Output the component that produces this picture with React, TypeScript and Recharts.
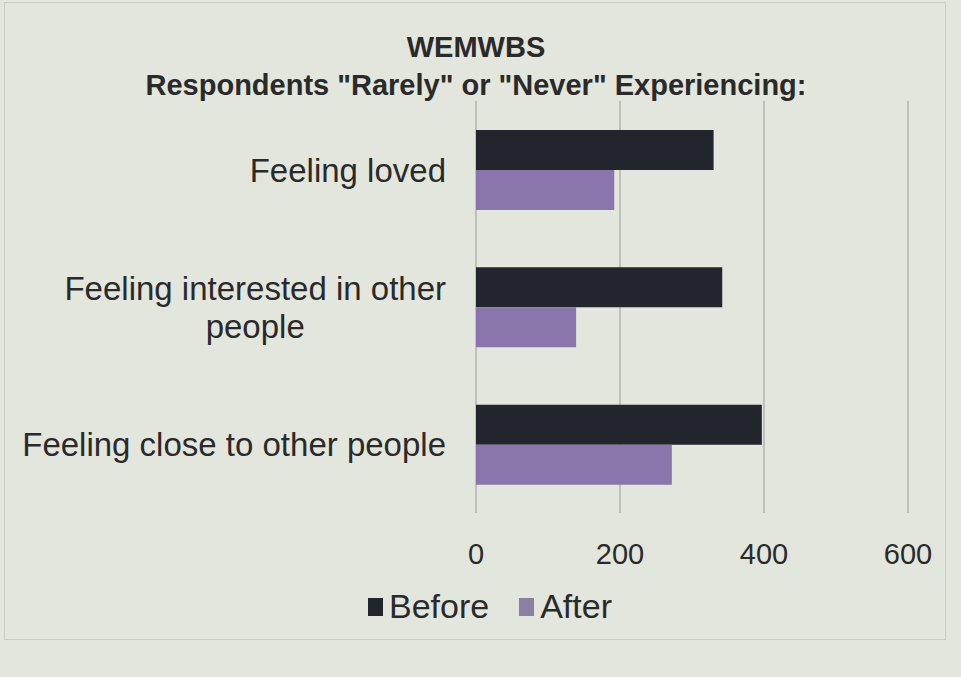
import React from 'react';
import { BarChart, Bar, XAxis, YAxis, CartesianGrid, Legend } from 'recharts';

// values (respondents count)
const categories = ['Feeling loved', 'Feeling interested in other people', 'Feeling close to other people'];
const categoryLines = [['Feeling loved'], ['Feeling interested in other', 'people'], ['Feeling close to other people']];
const beforeValues = [330, 342, 397];
const afterValues = [192, 139, 272];
const xTicks = [0, 200, 400, 600];

const FONT = '"Liberation Sans", Arial, sans-serif';
const TEXT = '#2a2a2a';
const BEFORE = '#23252c';
const AFTER = '#8b75ad';

const data = categories.map((c, i) => ({
  name: c,
  before: beforeValues[i],
  after: afterValues[i],
}));

let ctx: CanvasRenderingContext2D | null = null;
const measure = (s: string, size: number) => {
  if (!ctx) ctx = document.createElement('canvas').getContext('2d');
  if (!ctx) return s.length * size * 0.5;
  ctx.font = `${size}px ${FONT}`;
  return ctx.measureText(s).width;
};

const CategoryTick = (props: any) => {
  const { x, y, payload } = props;
  const idx = categories.indexOf(payload.value);
  const lines = categoryLines[idx] || [payload.value];
  const size = 33;
  const right = x - 22;
  const w = Math.max(...lines.map(l => measure(l, size)));
  const cx = right - w / 2;
  const lh = 38;
  const y0 = y - ((lines.length - 1) * lh) / 2;
  return (
    <text x={cx} y={y0} textAnchor="middle" fill={TEXT} fontSize={size} fontFamily={FONT} dominantBaseline="central">
      {lines.map((l, i) => (
        <tspan key={i} x={cx} y={y0 + i * lh} dominantBaseline="central">{l}</tspan>
      ))}
    </text>
  );
};

const LegendContent = () => (
  <div style={{ display: 'flex', alignItems: 'center', fontFamily: FONT, fontSize: 34, color: TEXT }}>
    <span style={{ display: 'inline-block', width: 15, height: 18, background: BEFORE, marginRight: 6 }} />
    <span style={{ marginRight: 30 }}>Before</span>
    <span style={{ display: 'inline-block', width: 15, height: 18, background: '#8a80a2', marginRight: 6 }} />
    <span>After</span>
  </div>
);

export default function App() {
  return (
    <div style={{ position: 'absolute', left: 0, top: 0, width: 961, height: 677, background: '#e2e6dd', overflow: 'hidden' }}>
      <div style={{ position: 'absolute', left: 4, top: 2, width: 940, height: 636, border: '1px solid #c9ccc4' }} />
      <div style={{ position: 'absolute', top: 28, left: 0, width: 952, textAlign: 'center', fontFamily: FONT, fontWeight: 'bold', fontSize: 29, color: TEXT, lineHeight: '38px' }}>
        <div>WEMWBS</div>
        <div>Respondents "Rarely" or "Never" Experiencing:</div>
      </div>
      <div style={{ position: 'absolute', left: 0, top: 0 }}>
        <BarChart
          width={961}
          height={677}
          data={data}
          layout="vertical"
          margin={{ top: 101, right: 53, left: 10, bottom: 52 }}
          barCategoryGap={29}
          barGap={0}
        >
          <CartesianGrid vertical horizontal={false} stroke="#b2b5ad" strokeWidth={1.5} />
          <XAxis
            type="number"
            domain={[0, 600]}
            ticks={xTicks}
            axisLine={false}
            tickLine={false}
            height={74}
            tick={{ fill: TEXT, fontSize: 29, fontFamily: FONT }}
            dy={22}
          />
          <YAxis
            type="category"
            dataKey="name"
            width={466}
            axisLine={false}
            tickLine={false}
            tick={<CategoryTick />}
          />
          <Legend
            verticalAlign="bottom"
            content={<LegendContent />}
            wrapperStyle={{ left: 368, width: 320, height: 38 }}
          />
          <Bar dataKey="before" name="Before" fill={BEFORE} isAnimationActive={false} />
          <Bar dataKey="after" name="After" fill={AFTER} isAnimationActive={false} />
        </BarChart>
      </div>
    </div>
  );
}
